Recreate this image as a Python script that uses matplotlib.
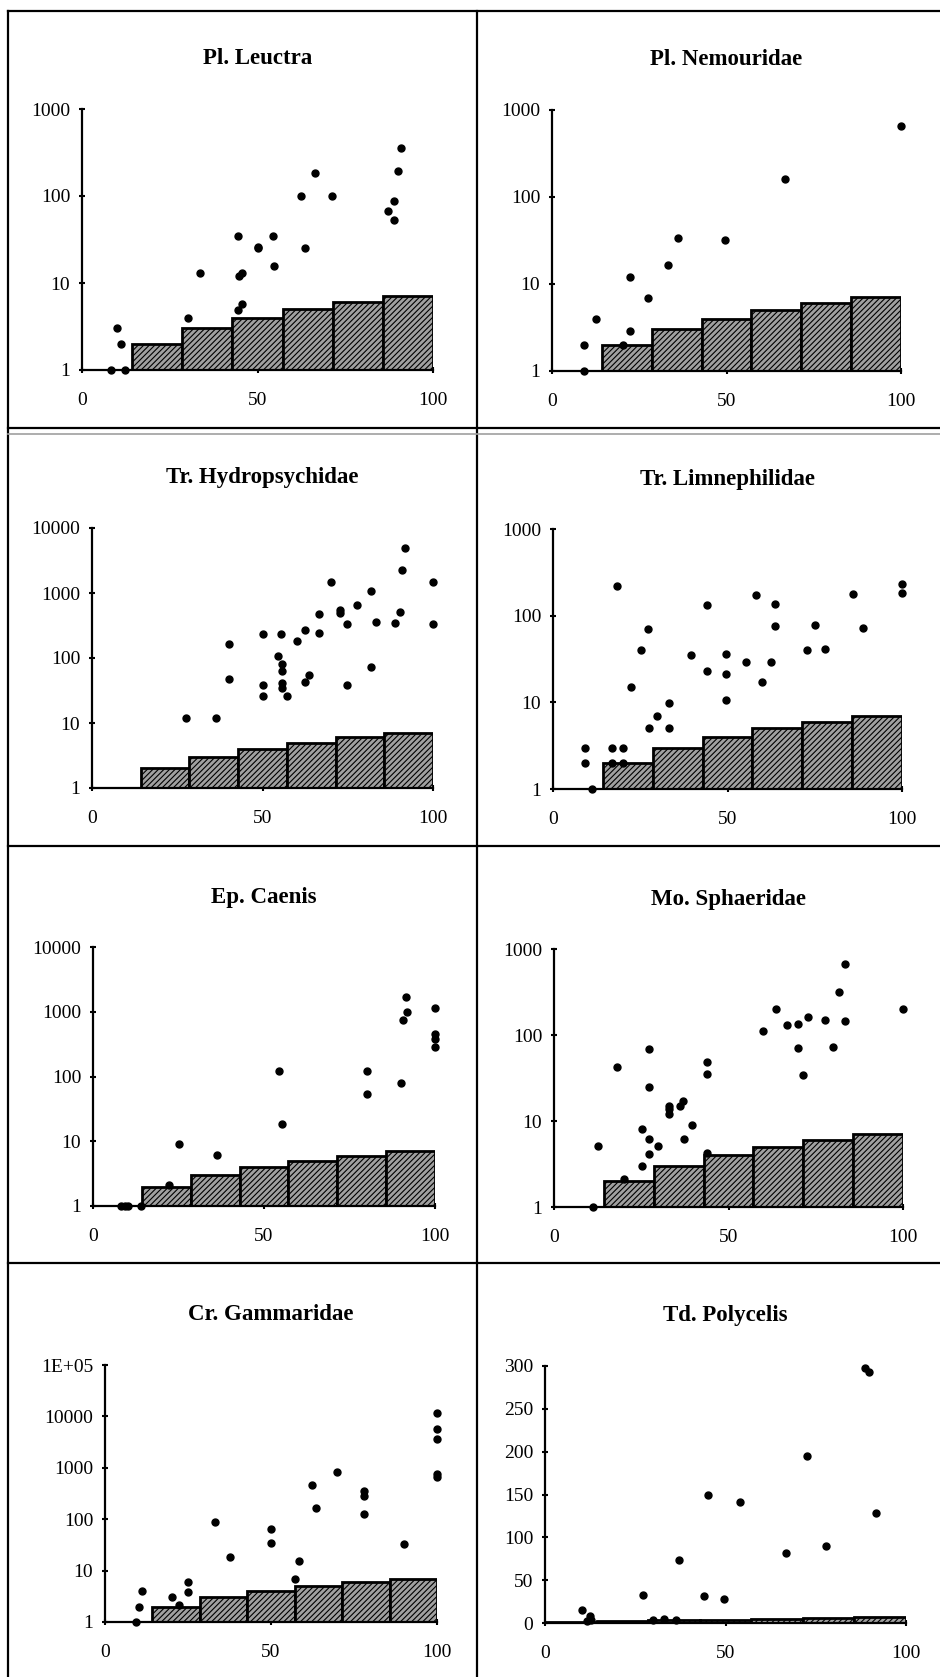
import matplotlib
matplotlib.use("Agg")
import matplotlib.pyplot as plt
from matplotlib.lines import Line2D

# Taxa (panel titles), in reading order
titles = ["Pl. Leuctra", "Pl. Nemouridae", "Tr. Hydropsychidae", "Tr. Limnephilidae",
          "Ep. Caenis", "Mo. Sphaeridae", "Cr. Gammaridae", "Td. Polycelis"]

# Step bars (class heights over 7 equal bins of 0-100)
bin_left = [0, 100/7, 200/7, 300/7, 400/7, 500/7, 600/7]
bin_height = [1, 2, 3, 4, 5, 6, 7]

# Scatter data: x = %, y = abundance
leuctra_x = [8.3, 9.9, 11.1, 12.3, 30.1, 33.5, 44.5, 44.6, 45.6, 44.4, 45.7, 50, 50.2, 54.5, 54.7,
             62.4, 63.6, 66.5, 71.3, 87.2, 88.8, 88.8, 90, 91]
leuctra_y = [1, 3, 2, 1, 4, 13, 35, 12, 13, 4.9, 5.8, 25, 26, 35, 15.7,
             99, 25, 183, 99, 67, 87, 53, 195, 359]

nemour_x = [9.3, 9.3, 12.7, 20.3, 22.4, 22.4, 27.5, 33.1, 36.2, 49.5, 66.8, 100]
nemour_y = [1, 2, 4, 2, 12, 2.9, 6.9, 16.5, 34, 32, 160, 660]

hydro_x = [27.5, 36.4, 40.1, 40.1, 50, 50.2, 50.2, 55.5, 54.6, 55.6, 55.6, 55.6, 55.6, 57.1,
           60, 62.5, 62.5, 63.7, 66.5, 66.5, 70, 72.6, 72.6, 74.9, 74.9, 77.6, 81.8, 81.8,
           83.4, 88.9, 90.2, 91, 91.7, 100, 100]
hydro_y = [12, 12, 164, 48, 234, 38, 26, 234, 106, 82, 62, 41, 35, 26,
           180, 267, 42, 54, 481, 242, 1459, 554, 492, 330, 39, 654, 1074, 73,
           358, 345, 517, 2285, 4923, 1494, 333]

limne_x = [9.1, 9.1, 11.3, 16.9, 16.9, 20.2, 20.2, 18.3, 22.3, 25.1, 27.3, 27.4, 29.9, 33.1,
           33.1, 39.6, 44.1, 44.1, 49.6, 49.6, 49.6, 55.3, 58.1, 60, 62.4, 63.7, 63.7,
           72.8, 75.1, 77.9, 85.9, 88.9, 100, 100]
limne_y = [3, 2, 1, 3, 2, 3, 2, 222, 15, 40, 71, 5, 7, 9.9,
           5, 35, 134, 23, 36, 21, 10.7, 29, 172, 17, 29, 136, 77,
           40.5, 79, 41.6, 178, 72, 230, 183]

caenis_x = [8.1, 9.3, 10.2, 14.1, 22.1, 25.1, 36.2, 54.4, 55.4, 80, 80, 90, 90.7, 91.6, 91.7,
            100, 100, 100, 100]
caenis_y = [1, 1, 1, 1, 2.1, 9, 6.1, 122, 18.5, 122, 53, 80, 735, 1667, 977,
            1153, 446, 378, 288]

sphaer_x = [11.2, 12.6, 18.1, 20, 25.1, 25.1, 27.1, 27.2, 27.3, 27.3, 29.8, 32.9, 32.9, 32.9,
            36, 37, 37.2, 39.6, 43.9, 43.9, 43.9, 59.9, 63.7, 66.8, 69.9, 69.9, 71.3, 72.8,
            77.7, 79.9, 81.6, 83.3, 83.3, 100]
sphaer_y = [1, 5.1, 43, 2.1, 8.1, 3, 68, 25, 6.1, 4.1, 5.1, 15, 13.7, 12.2,
            15, 17, 6.1, 8.9, 49, 35, 4.2, 111, 202, 130, 134, 71, 34, 160,
            149, 72, 316, 675, 146, 200]

gamma_x = [9.2, 10.1, 11.1, 20.1, 22.2, 25.1, 25.1, 33.2, 37.5, 50, 50, 57.2, 58.4, 62.4, 63.5,
           69.8, 77.9, 77.9, 77.9, 90, 100, 100, 100, 100, 100]
gamma_y = [1, 2, 4.1, 3, 2.1, 5.9, 3.8, 88, 18, 64, 35, 7, 15.5, 473, 162,
           834, 356, 277, 127, 33, 11500, 5700, 3650, 774, 676]

polyc_x = [10.2, 11.5, 12.6, 12.7, 27.2, 29.8, 33.1, 36.2, 37.2, 44.1, 45.1, 49.6, 54.1, 66.8,
           72.5, 77.8, 88.6, 89.7, 91.6]
polyc_y = [15.5, 2.7, 7.8, 3.9, 33, 3, 5, 4, 74, 31, 150, 28, 141, 82,
           195, 90, 298, 293, 128]

xs = [leuctra_x, nemour_x, hydro_x, limne_x, caenis_x, sphaer_x, gamma_x, polyc_x]
ys = [leuctra_y, nemour_y, hydro_y, limne_y, caenis_y, sphaer_y, gamma_y, polyc_y]

# y ticks for each panel
log3 = ([1, 10, 100, 1000], ["1", "10", "100", "1000"])
log4 = ([1, 10, 100, 1000, 10000], ["1", "10", "100", "1000", "10000"])
log5 = ([1, 10, 100, 1000, 10000, 100000], ["1", "10", "100", "1000", "10000", "1E+05"])
lin300 = ([0, 50, 100, 150, 200, 250, 300], ["0", "50", "100", "150", "200", "250", "300"])
yticks = [log3, log3, log4, log3, log4, log3, log5, lin300]

# Axes boxes in pixels: left, right, bottom, top
W, H = 940, 1677
boxes = [(82, 433, 370, 109), (552, 901, 371, 110),
         (92, 433, 788, 528), (553, 902, 789, 529),
         (93, 435, 1206, 947), (554, 903, 1207, 949),
         (105, 437, 1622, 1365), (545, 906, 1623, 1366)]

plt.rcParams['font.family'] = ['Liberation Serif', 'DejaVu Serif']
plt.rcParams['hatch.linewidth'] = 0.8

fig = plt.figure(figsize=(W / 100, H / 100), dpi=100)

for i in range(8):
    l, r, b, t = boxes[i]
    ax = fig.add_axes([l / W, 1 - b / H, (r - l) / W, (b - t) / H])
    ticks, labels = yticks[i]
    logy = i < 7
    base = 1 if logy else 0
    if logy:
        ax.set_yscale('log')
    ax.bar(bin_left, [h - base for h in bin_height], width=100/7, bottom=base, align='edge',
           facecolor='#a0a0a0', edgecolor='black', hatch='//////', linewidth=2, zorder=2)
    ax.plot(xs[i], ys[i], 'ko', markersize=5, clip_on=False, zorder=3)
    ax.set_xlim(0, 100)
    ax.set_ylim(ticks[0], ticks[-1])
    ax.set_yticks(ticks)
    ax.set_yticklabels(labels)
    ax.minorticks_off()
    ax.set_xticks([0, 50, 100])
    ax.set_xticklabels(["0", "50", "100"])
    for s in ['top', 'right']:
        ax.spines[s].set_visible(False)
    for s in ['left', 'bottom']:
        ax.spines[s].set_linewidth(1.6)
    ax.tick_params(axis='y', direction='inout', length=5, width=1.5, pad=6, labelsize=14)
    ax.tick_params(axis='x', direction='inout', length=5, width=1.5, pad=13, labelsize=14)
    ax.annotate(titles[i], xy=(0.5, 1), xycoords='axes fraction', xytext=(0, 36),
                textcoords='offset points', ha='center', va='center',
                fontsize=16.5, fontweight='bold')

# Frame lines around the panels
def line(x0, y0, x1, y1, color='black', lw=1.6):
    fig.add_artist(Line2D([x0 / W, x1 / W], [1 - y0 / H, 1 - y1 / H], color=color, linewidth=lw))

line(8, 11, 940, 11)
line(8, 11, 8, H)
line(477, 11, 477, H)
line(8, 428, 940, 428)
line(8, 434, 940, 434, color='#a0a0a0', lw=1.2)
line(8, 846, 940, 846)
line(8, 1263, 940, 1263)

fig.savefig("out.png", dpi=100)
